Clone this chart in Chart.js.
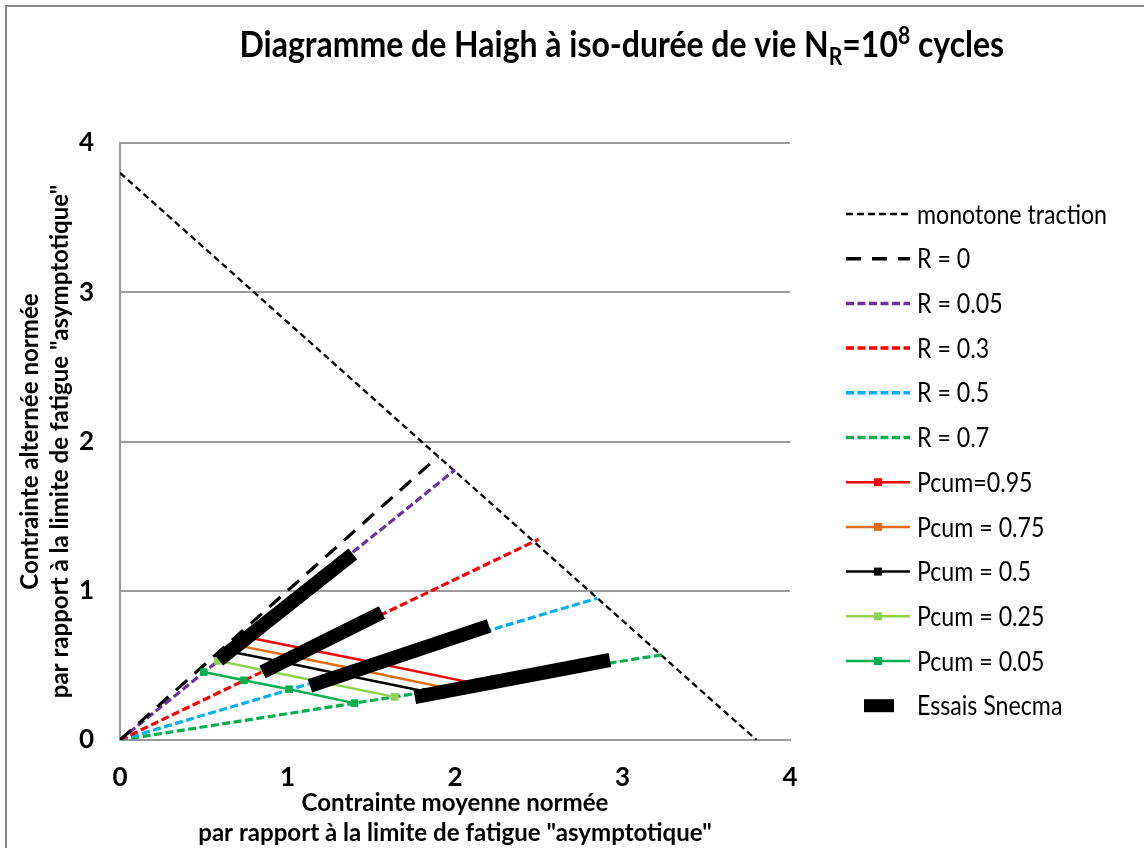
<!DOCTYPE html>
<html>
<head>
<meta charset="utf-8">
<title>Diagramme de Haigh</title>
<script src="https://cdn.jsdelivr.net/npm/chart.js@4.4.1/dist/chart.umd.min.js"></script>
<style>
  html, body { margin: 0; padding: 0; background: #ffffff; }
  #wrap { width: 1144px; height: 848px; position: relative; }
</style>
</head>
<body>
<div id="wrap"><canvas id="haigh" width="1144" height="848"></canvas></div>
<script>
const FONT = 'Lato, "Open Sans", "DejaVu Sans", sans-serif';

// Axis ticks
const tickValues = [0, 1, 2, 3, 4];

// Monotone tensile limit
const monotoneX = [0, 3.8];
const monotoneY = [3.8, 0];

// Constant stress-ratio rays starting from the origin
const rayLabels = ['R = 0', 'R = 0.05', 'R = 0.3', 'R = 0.5', 'R = 0.7'];
const rayEndX = [1.9, 2.0, 2.5, 2.85, 3.25];
const rayEndY = [1.9, 1.81, 1.345, 0.95, 0.573];
const rayColors = ['#000000', '#7030A0', '#FF0000', '#00B0F0', '#00B050'];

// Iso-probability curves, one point on each of the R = 0.05 / 0.3 / 0.5 / 0.7 rays
const pcumLabels = ['Pcum=0.95', 'Pcum = 0.75', 'Pcum = 0.5', 'Pcum = 0.25', 'Pcum = 0.05'];
const pcumColors = ['#FF0000', '#E46C0A', '#000000', '#92D050', '#00B050'];
const pcum95X = [0.76, 1.125, 1.535, 2.13];
const pcum95Y = [0.688, 0.606, 0.514, 0.376];
const pcum75X = [0.70, 1.04, 1.41, 1.96];
const pcum75Y = [0.634, 0.558, 0.474, 0.346];
const pcum50X = [0.655, 0.97, 1.32, 1.83];
const pcum50Y = [0.593, 0.522, 0.441, 0.323];
const pcum25X = [0.585, 0.866, 1.18, 1.64];
const pcum25Y = [0.530, 0.466, 0.394, 0.289];
const pcum05X = [0.50, 0.74, 1.01, 1.40];
const pcum05Y = [0.455, 0.40, 0.34, 0.247];

// Test campaign bands (null separates the four bands)
const essaisX = [0.59, 1.39, null, 0.851, 1.564, null, 1.134, 2.203, null, 1.76, 2.925];
const essaisY = [0.536, 1.246, null, 0.456, 0.854, null, 0.362, 0.764, null, 0.288, 0.536];

const toPoints = (xs, ys) => xs.map((x, i) => ({ x: x, y: ys[i] }));

// Font sizes fitted to the intended text widths
const measureCtx = document.createElement('canvas').getContext('2d');
function fitSize(text, weight, target) {
  measureCtx.font = weight + ' 100px ' + FONT;
  return 100 * target / measureCtx.measureText(text).width;
}
const SQUEEZE = 0.86;   // horizontal condensing for the plugin-drawn texts
const legendSize = fitSize('monotone traction', 'normal', 190 / SQUEEZE);
const axisTitleSize = fitSize('par rapport à la limite de fatigue "asymptotique"', 'bold', 514);

const rayDash = [[15, 10], [8, 3.5], [8, 3.5], [8, 3.5], [8, 3.5]];

const datasets = [];
datasets.push({
  label: 'Essais Snecma',
  data: toPoints(essaisX, essaisY),
  showLine: true, spanGaps: false,
  borderColor: '#000000', borderWidth: 14, borderCapStyle: 'butt',
  pointRadius: 0, order: 0
});
const pcumX = [pcum95X, pcum75X, pcum50X, pcum25X, pcum05X];
const pcumY = [pcum95Y, pcum75Y, pcum50Y, pcum25Y, pcum05Y];
pcumLabels.forEach((lab, i) => {
  datasets.push({
    label: lab,
    data: toPoints(pcumX[i], pcumY[i]),
    showLine: true,
    borderColor: pcumColors[i], backgroundColor: pcumColors[i],
    borderWidth: 2.5,
    pointStyle: 'rect', pointRadius: 5.4, pointBorderWidth: 0,
    order: 1
  });
});
rayLabels.forEach((lab, i) => {
  datasets.push({
    label: lab,
    data: toPoints([0, rayEndX[i]], [0, rayEndY[i]]),
    showLine: true,
    borderColor: rayColors[i], borderWidth: 3.2, borderDash: rayDash[i],
    borderCapStyle: 'butt',
    pointRadius: 0, order: 2
  });
});
datasets.push({
  label: 'monotone traction',
  data: toPoints(monotoneX, monotoneY),
  showLine: true,
  borderColor: '#000000', borderWidth: 2.3, borderDash: [6.5, 4],
  borderCapStyle: 'butt',
  pointRadius: 0, order: 3
});

// Legend entries in display order
const legendItems = [
  { text: 'monotone traction', color: '#000000', dash: [7, 4], width: 2.5 },
  { text: 'R = 0', color: '#000000', dash: [15, 11], width: 3.5 },
  { text: 'R = 0.05', color: '#7030A0', dash: [8, 3.5], width: 3.5 },
  { text: 'R = 0.3', color: '#FF0000', dash: [8, 3.5], width: 3.5 },
  { text: 'R = 0.5', color: '#00B0F0', dash: [8, 3.5], width: 3.5 },
  { text: 'R = 0.7', color: '#00B050', dash: [8, 3.5], width: 3.5 },
  { text: 'Pcum=0.95', color: '#FF0000', marker: true },
  { text: 'Pcum = 0.75', color: '#E46C0A', marker: true },
  { text: 'Pcum = 0.5', color: '#000000', marker: true },
  { text: 'Pcum = 0.25', color: '#92D050', marker: true },
  { text: 'Pcum = 0.05', color: '#00B050', marker: true },
  { text: 'Essais Snecma', color: '#000000', block: true }
];

function drawSqueezed(ctx, text, x, y) {
  ctx.save();
  ctx.translate(x, y);
  ctx.scale(SQUEEZE, 1);
  ctx.fillText(text, 0, 0);
  ctx.restore();
  return ctx.measureText(text).width * SQUEEZE;
}

const decorPlugin = {
  id: 'decor',
  beforeDraw(chart) {
    const ctx = chart.ctx;
    ctx.save();
    ctx.fillStyle = '#ffffff';
    ctx.fillRect(0, 0, chart.width, chart.height);
    ctx.strokeStyle = '#8c8c8c';
    ctx.lineWidth = 2;
    ctx.strokeRect(6, 6, chart.width + 20, chart.height + 20);
    ctx.restore();
  },
  afterDraw(chart) {
    const ctx = chart.ctx;
    ctx.save();
    // Title with subscript and superscript
    const parts = [
      { t: 'Diagramme de Haigh à iso-durée de vie N', s: 1, dy: 0 },
      { t: 'R', s: 0.66, dy: 8 },
      { t: '=10', s: 1, dy: 0 },
      { t: '8', s: 0.66, dy: -13 },
      { t: ' cycles', s: 1, dy: 0 }
    ];
    let w100 = 0;
    parts.forEach(p => {
      measureCtx.font = 'bold ' + (100 * p.s) + 'px ' + FONT;
      w100 += measureCtx.measureText(p.t).width;
    });
    const titleSize = 100 * 765 / (w100 * SQUEEZE);
    let x = 622 - 765 / 2;
    const base = 57;
    ctx.fillStyle = '#000000';
    ctx.textBaseline = 'alphabetic';
    ctx.textAlign = 'left';
    parts.forEach(p => {
      ctx.font = 'bold ' + (titleSize * p.s) + 'px ' + FONT;
      x += drawSqueezed(ctx, p.t, x, base + p.dy);
    });

    // Legend
    const x0 = 846, x1 = 910, tx = 917;
    ctx.font = legendSize + 'px ' + FONT;
    ctx.textBaseline = 'middle';
    legendItems.forEach((it, i) => {
      const y = 214 + i * 44.7;
      if (it.block) {
        ctx.fillStyle = it.color;
        ctx.fillRect(864, y - 6.5, 30, 13);
      } else {
        ctx.strokeStyle = it.color;
        ctx.lineWidth = it.width || 2.5;
        ctx.setLineDash(it.dash || []);
        ctx.lineCap = 'butt';
        ctx.beginPath();
        ctx.moveTo(x0, y);
        ctx.lineTo(x1, y);
        ctx.stroke();
        ctx.setLineDash([]);
        if (it.marker) {
          ctx.fillStyle = it.color;
          ctx.fillRect(878 - 4, y - 4, 8, 8);
        }
      }
      ctx.fillStyle = '#000000';
      drawSqueezed(ctx, it.text, tx, y + 1);
    });
    ctx.restore();
  }
};

const gridColor = '#9a9a9a';

new Chart(document.getElementById('haigh'), {
  type: 'scatter',
  data: { datasets: datasets },
  plugins: [decorPlugin],
  options: {
    responsive: false,
    animation: false,
    devicePixelRatio: 1,
    layout: { padding: { left: 0, right: 354, top: 143, bottom: 0 } },
    plugins: {
      legend: { display: false },
      tooltip: { enabled: false },
      title: { display: false }
    },
    scales: {
      x: {
        type: 'linear', min: 0, max: 4,
        afterFit(s) { s.height = 108; },
        afterBuildTicks(s) { s.ticks = tickValues.map(v => ({ value: v })); },
        grid: { display: false, drawTicks: false },
        border: { display: true, color: gridColor, width: 2 },
        ticks: {
          padding: 22, color: '#000000',
          font: { family: FONT, size: 26, weight: 'bold' }
        },
        title: {
          display: true,
          text: ['Contrainte moyenne normée', 'par rapport à la limite de fatigue "asymptotique"'],
          color: '#000000',
          font: { family: FONT, size: axisTitleSize, weight: 'bold', lineHeight: 30 / axisTitleSize },
          padding: { top: 0, bottom: 0 }
        }
      },
      y: {
        type: 'linear', min: 0, max: 4,
        afterFit(s) { s.width = 120; },
        afterBuildTicks(s) { s.ticks = tickValues.map(v => ({ value: v })); },
        grid: { display: true, color: gridColor, lineWidth: 2, drawTicks: false },
        border: { display: true, color: gridColor, width: 2 },
        ticks: {
          padding: 26, color: '#000000',
          font: { family: FONT, size: 26, weight: 'bold' }
        },
        title: {
          display: true,
          text: ['Contrainte alternée normée', 'par rapport à la limite de fatigue "asymptotique"'],
          color: '#000000',
          font: { family: FONT, size: axisTitleSize, weight: 'bold', lineHeight: 30 / axisTitleSize },
          padding: { top: 15, bottom: 0 }
        }
      }
    }
  }
});
</script>
</body>
</html>
